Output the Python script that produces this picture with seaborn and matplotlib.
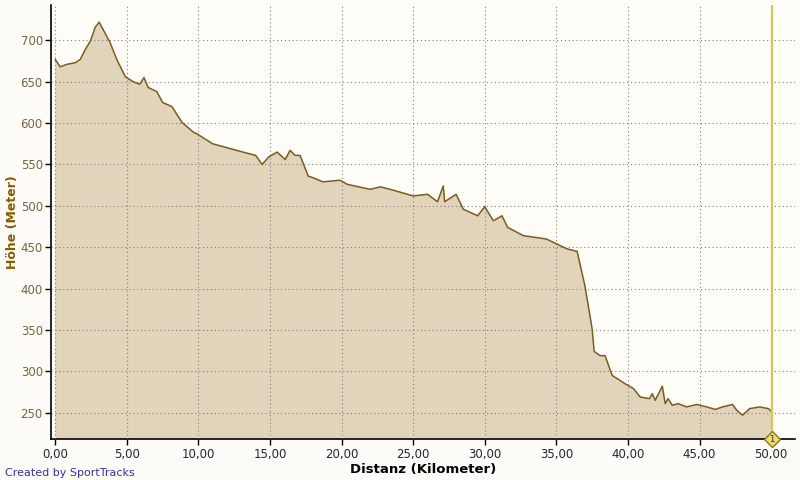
import matplotlib.pyplot as plt
import numpy as np
import pandas as pd
import seaborn as sns

# elevation profile
km = [0.0, 0.35, 0.8, 1.4, 1.75, 2.1, 2.45, 2.8, 3.07, 3.35, 3.84, 4.3, 4.9, 5.45,
      5.9, 6.2, 6.5, 7.1, 7.5, 8.15, 8.85, 9.65, 9.9, 11.0, 12.9, 14.0, 14.45, 14.9,
      15.5, 16.06, 16.4, 16.76, 17.1, 17.67, 18.0, 18.7, 19.9, 20.4, 22.0, 22.7,
      23.4, 25.0, 26.0, 26.7, 27.1, 27.2, 28.0, 28.5, 29.5, 30.0, 30.6, 31.2, 31.6,
      32.7, 34.3, 35.75, 36.45, 37.0, 37.5, 37.64, 38.06, 38.4, 38.9, 39.45, 39.8,
      40.4, 40.85, 41.5, 41.7, 41.9, 42.4, 42.6, 42.8, 43.1, 43.5, 44.1, 44.8, 45.5,
      46.1, 46.6, 47.3, 47.6, 48.0, 48.5, 49.2, 49.8, 50.06]
hoehe = [677, 668, 671, 673, 677, 689, 699, 716, 722, 713, 697, 677, 656, 650,
         647, 655, 643, 638, 625, 620, 601, 589, 587, 575, 566, 561, 550, 559,
         565, 556, 567, 561, 561, 536, 534, 529, 531, 526, 520, 523,
         520, 512, 514, 505, 524, 505, 514, 496, 488, 499, 482, 488, 474,
         464, 460, 448, 445, 403, 351, 324, 319, 319, 295, 289, 285,
         279, 269, 267, 273, 265, 282, 261, 267, 259, 261, 257, 260, 257,
         254, 257, 260, 253, 247, 255, 257, 255, 251]
marker_km = 50.05
marker_label = "1"
y_ticks = [250, 300, 350, 400, 450, 500, 550, 600, 650, 700]
x_ticks = [0, 5, 10, 15, 20, 25, 30, 35, 40, 45, 50]

df = pd.DataFrame({"km": km, "hoehe": hoehe})

sns.set_style("white")
plt.rcParams["font.family"] = ["DejaVu Sans"]

fig = plt.figure(figsize=(8, 4.8), dpi=100, facecolor="#fdfcf9")
ax = fig.add_axes([0.064, 0.085, 0.93, 0.905])
ax.set_facecolor("#fffdf8")

ax.fill_between(df["km"], 0, df["hoehe"], color="#e2d3bb", linewidth=0, zorder=2)
sns.lineplot(data=df, x="km", y="hoehe", color="#7b5c22", linewidth=1.1, ax=ax, zorder=3)

ax.set_xlim(-0.28, 51.68)
ax.set_ylim(218, 743)
ax.set_xticks(x_ticks)
ax.set_yticks(y_ticks)
ax.set_xticklabels([f"{t:.2f}".replace(".", ",") for t in x_ticks], fontsize=8.5)
ax.set_yticklabels([str(t) for t in y_ticks], fontsize=8.5, color="#7a6440")
ax.tick_params(axis="both", length=4, width=1, color="black", direction="out", pad=2,
               left=True, bottom=True)
ax.grid(True, color="#808080", linestyle=(0, (1, 2.5)), linewidth=0.8, zorder=4)
ax.set_axisbelow(False)

for side in ["top", "right"]:
    ax.spines[side].set_visible(False)
for side in ["left", "bottom"]:
    ax.spines[side].set_color("black")
    ax.spines[side].set_linewidth(1.2)

ax.axvline(marker_km, color="#d9c55a", linewidth=1.6, zorder=5)
ax.plot([marker_km], [ax.get_ylim()[0]], marker="D", markersize=8, color="#f0dc6a",
        markeredgecolor="#8a7420", clip_on=False, zorder=6)
ax.text(marker_km, ax.get_ylim()[0], marker_label, fontsize=6, ha="center", va="center",
        zorder=7, clip_on=False)

ax.set_xlabel("Distanz (Kilometer)", fontsize=9.5, fontweight="bold", color="black", labelpad=2)
ax.set_ylabel("Höhe (Meter)", fontsize=9, fontweight="bold", color="#8b5a00", labelpad=1)

fig.text(0.006, 0.008, "Created by SportTracks", fontsize=8, color="#3333aa")

fig.savefig("out.png", dpi=100, facecolor=fig.get_facecolor())
